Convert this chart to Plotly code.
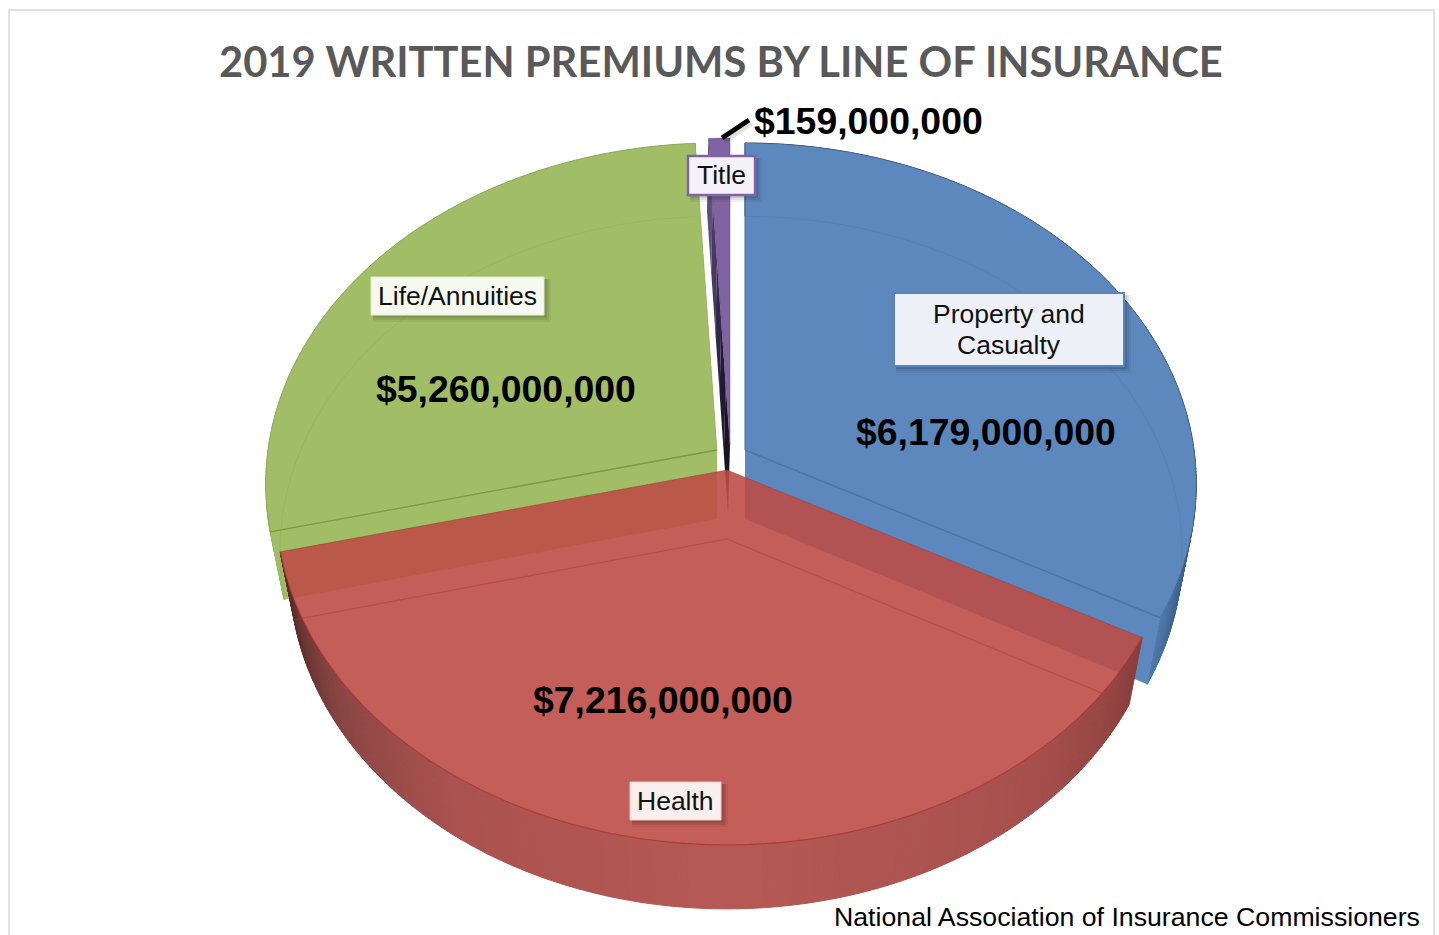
import numpy as np
import plotly.graph_objects as go

# Premium totals, clockwise from twelve o'clock
lines = ["Property and Casualty", "Health", "Life/Annuities", "Title"]
premiums = [6179000000, 7216000000, 5260000000, 159000000]
value_labels = ["$6,179,000,000", "$7,216,000,000", "$5,260,000,000", "$159,000,000"]

# Perspective of the tilted disc
P = 0.0997
TOP_A, TOP_B = 449.0, 337.6
BOTTOM_A, BOTTOM_B = 435.0, 333.0
DEPTH = 69.0
HUB = (727.0, 470.0)

# Per-slice explosion and styling, keyed by line of insurance
explode = {"Property and Casualty": (18, -20, 0), "Health": (0, 0, 0),
           "Life/Annuities": (-10, -20, 0), "Title": (3, -25, -2)}
face = {"Property and Casualty": "rgb(93,136,189)", "Health": "rgba(188,76,70,0.9)",
        "Life/Annuities": "rgb(161,190,102)", "Title": "rgb(128,100,162)"}
end_face = {"Property and Casualty": "rgb(93,136,189)", "Life/Annuities": "rgb(161,190,102)"}
edge = {"Property and Casualty": "rgba(70,105,150,0.45)", "Health": "rgba(150,50,45,0.4)",
        "Life/Annuities": "rgba(125,150,85,0.35)", "Title": "rgba(90,70,120,0.4)"}
crease = {"Property and Casualty": "rgba(60,105,165,0.65)", "Health": "rgba(175,55,60,0.5)",
          "Life/Annuities": "rgba(112,145,60,0.75)"}
faint = {"Property and Casualty": "rgba(70,115,170,0.35)", "Health": "rgba(175,50,55,0.5)",
         "Life/Annuities": "rgba(135,170,85,0.4)"}
side_stops = {
    "Property and Casualty": ([80, 95, 108, 118.3], [(44, 70, 105), (48, 76, 112), (60, 95, 140), (80, 122, 172)]),
    "Health": ([118, 125, 140, 180, 215, 235, 250, 257],
               [(135, 62, 60), (148, 68, 66), (166, 80, 77), (182, 90, 85), (170, 82, 79), (138, 70, 68), (100, 50, 48), (85, 43, 42)]),
    "Life/Annuities": ([256, 358], [(150, 180, 92), (150, 180, 92)]),
}
# Dark cut face of the thin slice, lightest at the rim and near black at the hub
title_cut = [(96, 78, 125), (70, 58, 100), (48, 40, 72), (32, 27, 50), (24, 20, 38)]

shares = np.array(premiums, dtype=float) / np.sum(premiums)
edges = np.concatenate([[0.0], np.cumsum(shares) * 360.0])


def project(theta, origin, a, b):
    """Map a rim angle in degrees to page coordinates on the tilted disc."""
    t = np.radians(theta)
    w = 1 + P * np.cos(t)
    return origin[0] + a * np.sin(t) / w, origin[1] - b * np.cos(t) / w


def origins(name):
    dx, dy, ddx = explode[name]
    top = (HUB[0] + dx, HUB[1] + dy)
    return top, (top[0] + ddx, top[1] + DEPTH)


def shade(name, theta):
    stops, cols = side_stops[name]
    c = [np.interp(theta, stops, [k[i] for k in cols]) for i in range(3)]
    return "rgb(%d,%d,%d)" % tuple(c)


fig = go.Figure()


def poly(xs, ys, fill, line=None, width=1):
    fig.add_trace(go.Scatter(x=list(xs) + [xs[0]], y=list(ys) + [ys[0]], mode="lines", fill="toself",
                             fillcolor=fill, line=dict(color=line or "rgba(0,0,0,0)", width=width),
                             hoverinfo="skip", showlegend=False))


def stroke(xs, ys, color, width=1.2):
    fig.add_trace(go.Scatter(x=list(xs), y=list(ys), mode="lines", line=dict(color=color, width=width),
                             hoverinfo="skip", showlegend=False))


def draw_slice(i):
    name = lines[i]
    t0, t1 = edges[i], edges[i + 1]
    top, low = origins(name)
    arc = np.linspace(t0, t1, max(int(t1 - t0) * 2, 8))

    # rim wall, one short panel at a time so it can be shaded
    if name in side_stops:
        for a, b in zip(arc[:-1], arc[1:]):
            x0, y0 = project(a, top, TOP_A, TOP_B)
            x1, y1 = project(b, top, TOP_A, TOP_B)
            x2, y2 = project(b, low, BOTTOM_A, BOTTOM_B)
            x3, y3 = project(a, low, BOTTOM_A, BOTTOM_B)
            col = shade(name, (a + b) / 2)
            poly([x0, x1, x2, x3], [y0, y1, y2, y3], col, col, 1)

    # cut faces between upper and lower disc
    if name in end_face:
        for t in (t0, t1):
            ex, ey = project(t, top, TOP_A, TOP_B)
            fx, fy = project(t, low, BOTTOM_A, BOTTOM_B)
            poly([top[0], ex, fx, low[0]], [top[1], ey, fy, low[1]], end_face[name])
    if name == "Title":
        ex, ey = project(t0, top, TOP_A, TOP_B)
        fx, fy = project(t0, low, BOTTOM_A, BOTTOM_B)
        n = len(title_cut)
        for k, col in enumerate(title_cut):
            u0, u1 = k / n, (k + 1) / n
            poly([ex + (top[0] - ex) * u0, ex + (top[0] - ex) * u1, fx + (low[0] - fx) * u1, fx + (low[0] - fx) * u0],
                 [ey + (top[1] - ey) * u0, ey + (top[1] - ey) * u1, fy + (low[1] - fy) * u1, fy + (low[1] - fy) * u0],
                 "rgb(%d,%d,%d)" % col)

    # upper face
    ax, ay = project(arc, top, TOP_A, TOP_B)
    poly([top[0]] + list(ax), [top[1]] + list(ay), face[name], edge[name], 1)

    # creases showing through the translucent solid
    if name in faint:
        lx, ly = project(arc, low, BOTTOM_A, BOTTOM_B)
        if name == "Health":
            stroke(ax, ay, faint[name], 1.2)
            stroke([lx[0], low[0], lx[-1]], [ly[0], low[1], ly[-1]], crease[name], 1.2)
        else:
            stroke(lx, ly, faint[name], 1)
            if name == "Property and Casualty":
                stroke([top[0], ax[0]], [top[1], ay[0]], crease[name], 1)
                stroke([top[0], ax[-1]], [top[1], ay[-1]], crease[name], 1.3)
            else:
                stroke([top[0], ax[0]], [top[1], ay[0]], crease[name], 1.3)


# back slices first, the wide front slice last
for idx in (3, 2, 0, 1):
    draw_slice(idx)

# leader line for the small slice
fig.add_shape(type="line", x0=724, y0=141, x1=751, y1=123, line=dict(color="rgba(0,0,0,0.12)", width=6))
fig.add_shape(type="line", x0=722, y0=138, x1=749, y1=120, line=dict(color="black", width=5))

# category tags: (lines of text, box, fill, border, border width)
tags = [
    (["Property and", "Casualty"], 894, 293, 1124, 366, "rgb(237,241,247)", "rgb(88,132,188)", 2),
    (["Health"], 630, 782, 721, 820, "rgb(249,239,238)", "rgb(235,205,203)", 1),
    (["Life/Annuities"], 371, 277, 544, 315, "rgb(246,249,240)", "rgb(225,235,205)", 1),
    (["Title"], 688, 156, 755, 195, "rgb(244,242,247)", "rgb(128,100,162)", 2.5),
]
LINE_PITCH = 31
for rows, x0, y0, x1, y1, fill, border, bw in tags:
    for grow, alpha in ((7, 0.05), (5, 0.07), (3, 0.09)):
        fig.add_shape(type="rect", x0=x0 + 2, y0=y0 + 2, x1=x1 + grow, y1=y1 + grow,
                      line=dict(width=0), fillcolor="rgba(0,0,0,%g)" % alpha)
    fig.add_shape(type="rect", x0=x0, y0=y0, x1=x1, y1=y1, fillcolor=fill, line=dict(color=border, width=bw))
    for k, text in enumerate(rows):
        y = (y0 + y1) / 2 - 0.5 + (k - (len(rows) - 1) / 2) * LINE_PITCH
        fig.add_annotation(x=(x0 + x1) / 2, y=y, text=text, showarrow=False,
                           font=dict(family="Liberation Sans", size=26.5, color="#111111"),
                           xanchor="center", yanchor="middle", align="center")

# dollar figures
for pos, text in zip([(986, 432), (663, 700), (506, 389), (868.5, 121)], value_labels):
    fig.add_annotation(x=pos[0], y=pos[1], text="<b>%s</b>" % text, showarrow=False,
                       font=dict(family="Liberation Sans", size=37.4, color="black"),
                       xanchor="center", yanchor="middle")

fig.add_annotation(x=721, y=61, text="<b>2019 WRITTEN PREMIUMS BY LINE OF INSURANCE</b>", showarrow=False,
                   font=dict(family="Lato", size=41.7, color="#595959"), xanchor="center", yanchor="middle")
fig.add_annotation(x=1127, y=917, text="National Association of Insurance Commissioners", showarrow=False,
                   font=dict(family="Liberation Sans", size=26.7, color="black"), xanchor="center", yanchor="middle")

# chart-area frame, running off the bottom of the page
fig.add_shape(type="rect", x0=9, y0=10, x1=1434, y1=960, line=dict(color="#D9D9D9", width=1.5), layer="below")

fig.update_layout(
    width=1439, height=935, margin=dict(l=0, r=0, t=0, b=0),
    paper_bgcolor="white", plot_bgcolor="white", showlegend=False,
    xaxis=dict(range=[0, 1439], visible=False, fixedrange=True),
    yaxis=dict(range=[935, 0], visible=False, fixedrange=True),
)

fig.write_html("out.html")
